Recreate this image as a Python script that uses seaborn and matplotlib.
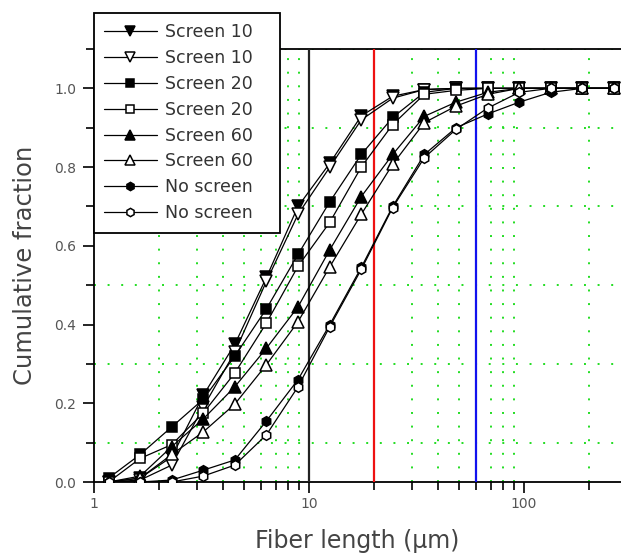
import numpy as np
import pandas as pd
import matplotlib
matplotlib.use("Agg")
import matplotlib.pyplot as plt
import matplotlib.ticker as mticker
import seaborn as sns

# ---- data ----
fiber_length = [1.17, 1.64, 2.30, 3.22, 4.52, 6.34, 8.89, 12.5, 17.5, 24.5,
                34.4, 48.3, 67.8, 95.1, 133, 187, 262]
screen10_a = [0.0, 0.01, 0.064, 0.22, 0.35, 0.52, 0.70, 0.81, 0.93, 0.98,
              0.997, 1.0, 1.0, 1.0, 1.0, 1.0, 1.0]
screen10_b = [0.0, 0.005, 0.043, 0.19, 0.33, 0.51, 0.68, 0.80, 0.92, 0.975,
              0.997, 1.0, 1.0, 1.0, 1.0, 1.0, 1.0]
screen20_a = [0.01, 0.07, 0.14, 0.21, 0.32, 0.44, 0.578, 0.712, 0.832, 0.926,
              0.99, 1.0, 1.0, 1.0, 1.0, 1.0, 1.0]
screen20_b = [0.0, 0.06, 0.095, 0.175, 0.277, 0.404, 0.548, 0.66, 0.80, 0.908,
              0.985, 0.995, 1.0, 1.0, 1.0, 1.0, 1.0]
screen60_a = [0.0, 0.015, 0.09, 0.16, 0.242, 0.34, 0.445, 0.59, 0.725, 0.832,
              0.929, 0.965, 0.99, 1.0, 1.0, 1.0, 1.0]
screen60_b = [0.0, 0.01, 0.07, 0.127, 0.198, 0.298, 0.407, 0.547, 0.68, 0.807,
              0.913, 0.955, 0.985, 1.0, 1.0, 1.0, 1.0]
noscreen_a = [0.0, 0.0, 0.005, 0.03, 0.056, 0.155, 0.26, 0.40, 0.545, 0.70,
              0.832, 0.90, 0.935, 0.965, 0.99, 1.0, 1.0]
noscreen_b = [0.0, 0.0, 0.0, 0.015, 0.043, 0.12, 0.242, 0.395, 0.54, 0.697,
              0.824, 0.896, 0.95, 0.99, 1.0, 1.0, 1.0]

series_labels = ["Screen 10", "Screen 10", "Screen 20", "Screen 20",
                 "Screen 60", "Screen 60", "No screen", "No screen"]
series_values = [screen10_a, screen10_b, screen20_a, screen20_b,
                 screen60_a, screen60_b, noscreen_a, noscreen_b]
ref_lines = [10, 20, 60]
ref_colors = ["#222222", "#ee1111", "#1111ee"]

# ---- style ----
sns.set_style("ticks")
plt.rcParams["font.family"] = ["DejaVu Sans"]

fig = plt.figure(figsize=(6.21, 5.58), dpi=100)
ax = fig.add_axes([94 / 621, 76 / 558, 1 - 94 / 621, 433 / 558])

markers = ["v", "v", "s", "s", "^", "^", "h", "h"]
filled = [True, False, True, False, True, False, True, False]
msizes = [8.5, 8.5, 6.5, 6.5, 8.5, 8.5, 7, 7]

for lab, vals, mk, fl, ms in zip(series_labels, series_values, markers, filled, msizes):
    df = pd.DataFrame({"x": fiber_length, "y": vals})
    sns.lineplot(data=df, x="x", y="y", ax=ax, color="black", lw=0.9,
                 marker=mk, markersize=ms,
                 markerfacecolor=("black" if fl else "white"),
                 markeredgecolor="black", markeredgewidth=1.1,
                 label=lab, zorder=5, sort=True, estimator=None)

for xv, c in zip(ref_lines, ref_colors):
    ax.axvline(xv, color=c, lw=1.6, zorder=3)

ax.set_xscale("log")
ax.set_xlim(1, 10 ** ((621 - 94) / 215))
ax.set_ylim(0, 1.1)

ax.xaxis.set_major_locator(mticker.FixedLocator([1, 10, 100]))
ax.xaxis.set_major_formatter(mticker.FixedFormatter(["1", "10", "100"]))
ax.xaxis.set_minor_locator(mticker.LogLocator(base=10, subs=np.arange(2, 10), numticks=20))
ax.xaxis.set_minor_formatter(mticker.NullFormatter())
ax.yaxis.set_major_locator(mticker.MultipleLocator(0.2))
ax.yaxis.set_major_formatter(mticker.FormatStrFormatter("%.1f"))
ax.yaxis.set_minor_locator(mticker.MultipleLocator(0.1))

# green dotted grid at minor ticks
ax.grid(False)
ax.grid(which="minor", color="#22dd22", linestyle=(0, (1, 6)), lw=1.4, zorder=1)

ax.tick_params(which="major", direction="out", length=8, width=1.2,
               labelsize=10, labelcolor="#555555", colors="black", pad=5)
ax.tick_params(which="minor", direction="out", length=6, width=1.2, colors="black")
ax.tick_params(axis="x", which="major", pad=3)

for s in ["left", "bottom", "top"]:
    ax.spines[s].set_visible(True)
    ax.spines[s].set_color("black")
    ax.spines[s].set_linewidth(1.3)
ax.spines["right"].set_visible(False)

ax.set_xlabel("Fiber length (\u00b5m)", fontsize=17, color="#444444", labelpad=13)
ax.set_ylabel("Cumulative fraction", fontsize=17.5, color="#444444", labelpad=12)

leg_w = 186 / 527
leg_top = (482 - 13) / 433
leg_bot = (482 - 230) / 433
leg = ax.legend(loc="upper left", bbox_to_anchor=(0.0, leg_bot, leg_w, leg_top - leg_bot),
                mode="expand", frameon=True,
                fancybox=False, edgecolor="black", framealpha=1.0,
                fontsize=12.5, handlelength=3.0, labelspacing=0.45,
                borderpad=0.6, handletextpad=0.5, borderaxespad=0, markerscale=0.85)
leg.get_frame().set_linewidth(1.3)
leg.set_zorder(10)
for t in leg.get_texts():
    t.set_color("#333333")

fig.savefig("out.png", dpi=100)
